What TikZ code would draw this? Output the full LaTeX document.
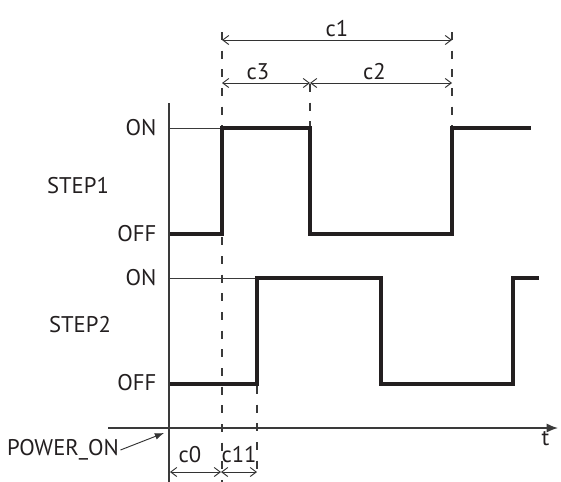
\documentclass[tikz,border=0pt]{standalone}
\usepackage{fontspec}
\setmainfont{PT Sans}
\usepackage{tikz}
\usetikzlibrary{positioning,arrows.meta,calc}
\definecolor{ink}  {HTML}{231F20}
\definecolor{axisc}{HTML}{3A3A3A}
\definecolor{dimc} {HTML}{333333}
\tikzset{
  sig/.style    = {draw=ink, line width=3pt, line join=miter},
  axisl/.style  = {draw=axisc, line width=1.1pt},
  guide/.style  = {draw=axisc, line width=0.6pt},
  dashl/.style  = {draw=axisc, line width=0.9pt, dash pattern=on 6pt off 8pt},
  dim/.style    = {draw=dimc, line width=0.7pt, {Straight Barb[length=1.6mm,width=2.4mm]}-{Straight Barb[length=1.6mm,width=2.4mm]}},
  lbl/.style    = {font=\fontsize{17}{19}\selectfont, text=ink, inner sep=1pt},
}

\begin{document}
\begin{tikzpicture}[x=0.75pt, y=-0.75pt]
  \useasboundingbox (0,0) rectangle (561,482);

  % axes
  \coordinate (org) at (169,428);
  \coordinate (ytop) at (169,103);
  \coordinate (ybot) at (169,482);
  \coordinate (xl) at (108,428);
  \coordinate (xr) at (558,428);
  \draw[axisl] (ytop) -- (ybot);
  \draw[axisl, -{Latex[length=3mm,width=2.4mm]}] (xl) -- (xr);
  \node[lbl, anchor=north east] (t) at (551,430) {t};

  % level labels
  \node[lbl, anchor=east] (on1)  at (158,128) {ON};
  \node[lbl, anchor=east] (off1) at (158,234) {OFF};
  \node[lbl, anchor=east] (on2)  at (158,278) {ON};
  \node[lbl, anchor=east] (off2) at (158,383) {OFF};
  \node[lbl] (step1) at (78,186) {STEP1};
  \node[lbl] (step2) at (80,325) {STEP2};

  % guide lines to ON level
  \draw[guide] (169,128) -- (222,128);
  \draw[guide] (169,278) -- (257,278);

  % dashed markers
  \draw[dashl] (222,32) -- (222,482);
  \draw[dashl] (257,386) -- (257,474);
  \draw[dashl] (310,84) -- (310,126);
  \draw[dashl] (452,32) -- (452,126);

  % STEP1 signal
  \draw[sig] (170,234) -- (222,234) -- (222,128) -- (310,128) -- (310,234)
             -- (452,234) -- (452,128) -- (531,128);

  % STEP2 signal
  \draw[sig] (170,384) -- (257,384) -- (257,278) -- (381,278) -- (381,384)
             -- (513,384) -- (513,278) -- (539,278);

  % timing dimensions
  \coordinate (a1) at (222,40);
  \coordinate (b1) at (452,40);
  \coordinate (a2) at (222,83);
  \coordinate (m2) at (310,83);
  \coordinate (b2) at (452,83);
  \draw[dim] (a1) -- (b1) node[lbl, midway, above=1pt] (c1) {c1};
  \draw[dim] (a2) -- (m2) node[lbl, midway, above=1pt, xshift=-6pt] (c3) {c3};
  \draw[dim] (m2) -- (b2) node[lbl, midway, above=1pt, xshift=-5pt] (c2) {c2};

  \coordinate (a3) at (170,472);
  \coordinate (m3) at (221,472);
  \coordinate (b3) at (257,472);
  \draw[dim] (a3) -- (m3);
  \draw[dim] (m3) -- (b3);
  \node[lbl] (c0) at (190,455) {c0};
  \node[lbl] (c11) at (239,455) {c11};

  % power on pointer
  \node[lbl] (pwr) at (63,450) {POWER\_ON};
  \draw[dim, -{Latex[length=2.4mm,width=1.8mm]}] (pwr.east) -- (164,433);
\end{tikzpicture}
\end{document}
